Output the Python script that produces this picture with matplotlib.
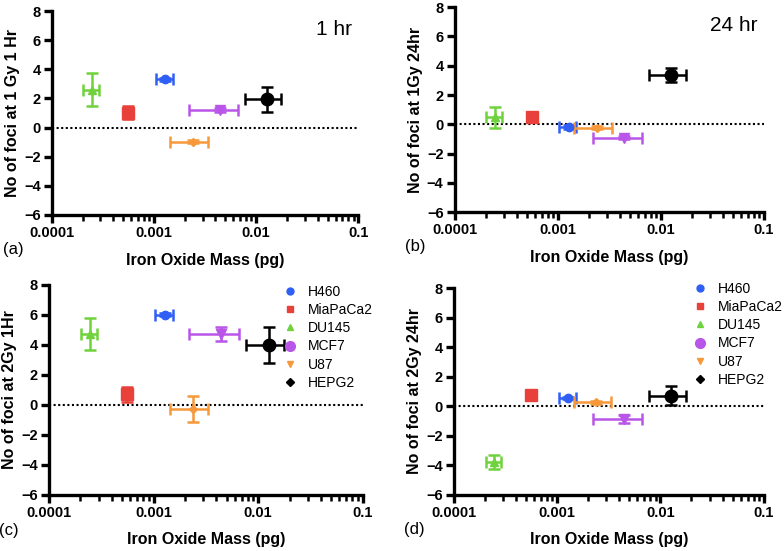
"""Foci vs iron oxide mass, 4 panels (1Gy/2Gy, 1hr/24hr)."""

import matplotlib
matplotlib.use('Agg')
import matplotlib.pyplot as plt
from matplotlib.lines import Line2D
from matplotlib.ticker import LogLocator, FixedLocator

cell_lines = ['H460', 'MiaPaCa2', 'DU145', 'MCF7', 'U87', 'HEPG2']
mass = [1.28e-3, 5.6e-4, 2.45e-4, 4.4e-3, 2.4e-3, 1.27e-2]
mass_err = [0.24e-3, 0.4e-4, 0.42e-4, 2.2e-3, 0.95e-3, 5.0e-3]

foci_1gy_1h = [3.32, 1.01, 2.61, 1.2, -0.97, 1.93]
err_1gy_1h = [0.1, 0.45, 1.15, 0.12, 0.1, 0.87]
foci_1gy_24h = [-0.17, 0.51, 0.47, -0.93, -0.24, 3.34]
err_1gy_24h = [0.15, 0.15, 0.69, 0.1, 0.1, 0.48]
foci_2gy_1h = [6.0, 0.71, 4.71, 4.71, -0.29, 4.0]
err_2gy_1h = [0.1, 0.5, 1.07, 0.48, 0.86, 1.22]
foci_2gy_24h = [0.56, 0.79, -3.79, -0.86, 0.27, 0.72]
err_2gy_24h = [0.1, 0.1, 0.48, 0.28, 0.1, 0.65]

colors = ['#2f5ff5', '#e8403a', '#6fd23c', '#b955e8', '#f7983a', '#000000']
# markers as drawn on the plots
markers = ['o', 's', '^', 'v', 'D', 'o']
msizes = [6, 8, 6, 7, 4, 9]
# markers as shown in the legend
leg_markers = ['o', 's', '^', 'o', 'v', 'D']
leg_sizes = [5, 5, 5, 7, 5, 4]

plt.rcParams['font.family'] = 'Liberation Sans'

fig = plt.figure(figsize=(7.84, 5.51), dpi=100)

panels = [
    ([0.066, 0.610, 0.391, 0.370], foci_1gy_1h, err_1gy_1h, 'No of foci at 1 Gy 1 Hr', '(a)', '1 hr', None),
    ([0.580, 0.615, 0.394, 0.372], foci_1gy_24h, err_1gy_24h, 'No of foci at 1Gy 24hr', '(b)', '24 hr', None),
    ([0.0625, 0.102, 0.400, 0.381], foci_2gy_1h, err_2gy_1h, 'No of foci at 2Gy 1Hr', '(c)', None, (0.745, 1.0)),
    ([0.579, 0.102, 0.395, 0.375], foci_2gy_24h, err_2gy_24h, 'No of foci at 2Gy 24hr', '(d)', None, (0.772, 1.03)),
]

for rect, foci, err, ylab, tag, title, leg_pos in panels:
    ax = fig.add_axes(rect)
    ax.axhline(0, color='black', ls=(0, (1, 1.2)), lw=1.5, zorder=1)
    for i in range(len(cell_lines)):
        ax.errorbar(mass[i], foci[i], xerr=mass_err[i], yerr=err[i],
                    fmt=markers[i], color=colors[i], ms=msizes[i],
                    elinewidth=1.8, capsize=4, capthick=1.8, zorder=3)
    ax.set_xscale('log')
    ax.set_xlim(1e-4, 1e-1)
    ax.set_ylim(-6, 8)
    ax.yaxis.set_major_locator(FixedLocator([-6, -4, -2, 0, 2, 4, 6, 8]))
    ax.xaxis.set_major_locator(FixedLocator([1e-4, 1e-3, 1e-2, 1e-1]))
    ax.xaxis.set_minor_locator(LogLocator(base=10, subs=range(2, 10)))
    ax.set_xticklabels(['0.0001', '0.001', '0.01', '0.1'])
    ax.spines['top'].set_visible(False)
    ax.spines['right'].set_visible(False)
    ax.spines['left'].set_linewidth(2.4)
    ax.spines['bottom'].set_linewidth(2.4)
    ax.tick_params(which='major', length=6, width=2.4, labelsize=10.5, pad=2)
    ax.tick_params(which='minor', length=4, width=1.8)
    for lab in ax.get_xticklabels() + ax.get_yticklabels():
        lab.set_fontweight('bold')
    ax.set_xlabel('Iron Oxide Mass (pg)', fontsize=11.5, fontweight='bold', labelpad=9)
    ax.set_ylabel(ylab, fontsize=11.5, fontweight='bold', labelpad=3)
    ax.text(-0.16, -0.17, tag, transform=ax.transAxes, fontsize=12, va='center')
    if title:
        ax.text(0.98, 0.91, title, transform=ax.transAxes, fontsize=15, ha='right', va='center')
    if leg_pos:
        handles = [Line2D([], [], ls='', marker=leg_markers[i], color=colors[i],
                          ms=leg_sizes[i]) for i in range(len(cell_lines))]
        ax.legend(handles, cell_lines, loc='upper left', bbox_to_anchor=leg_pos,
                  frameon=False, fontsize=10, handletextpad=0.8, labelspacing=0.3,
                  handlelength=1.0, borderpad=0, borderaxespad=0)

fig.savefig('out.png', dpi=100)
